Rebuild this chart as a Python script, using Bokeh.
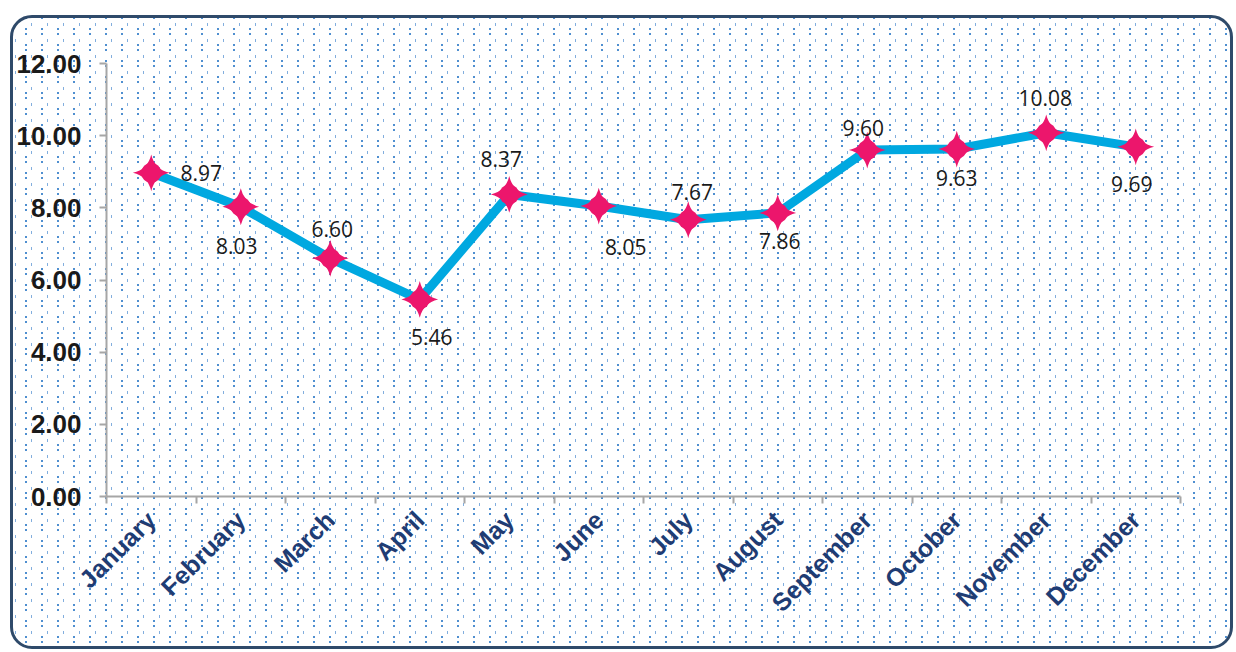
import math
from bokeh.plotting import figure
from bokeh.models import (ColumnDataSource, LabelSet, FixedTicker, NumeralTickFormatter, Range1d)
from bokeh.core.properties import value
from bokeh.embed import file_html
from bokeh.resources import INLINE

# ---- data ----
months = ["January", "February", "March", "April", "May", "June", "July",
          "August", "September", "October", "November", "December"]
values = [8.97, 8.03, 6.60, 5.46, 8.37, 8.05, 7.67, 7.86, 9.60, 9.63, 10.08, 9.69]
y_ticks = [0, 2, 4, 6, 8, 10, 12]

# label placement (style): screen-pixel offsets (dx right, dy up)
label_dx = [50, -4, 2, 12, -8, 27, 4, 2, -4, 0, -1, -4]
label_dy = [0, -39, 29, -38, 35, -41, 28, -28, 22, -29, 35, -37]

xs = [i + 0.5 for i in range(len(months))]
src = ColumnDataSource(dict(
    x=xs, y=values,
    txt=["%.2f" % v for v in values],
    dx=label_dx, dy=label_dy,
))

tile = ("data:image/svg+xml;utf8,"
        "<svg xmlns='http://www.w3.org/2000/svg' width='16' height='16'>"
        "<rect x='0' y='0' width='2' height='2' fill='%234f8fd0'/>"
        "<rect x='0' y='5' width='2' height='2' fill='%234f8fd0'/>"
        "<rect x='6' y='11' width='1' height='3' fill='%2382aede'/>"
        "</svg>")

p = figure(width=1223, height=634, output_backend="svg", toolbar_location=None,
           x_range=Range1d(0, 12), y_range=Range1d(0, 12),
           min_border_left=92, min_border_right=56, min_border_top=45, min_border_bottom=156)

p.styles = {
    "margin-left": "10px",
    "margin-top": "15px",
    "border": "3px solid #2f4a6a",
    "border-radius": "22px",
    "background-color": "white",
    "background-image": 'url("%s")' % tile,
    "background-position": "12px 10px",
}
p.background_fill_color = None
p.border_fill_color = None
p.outline_line_color = None
p.grid.visible = False

# axes
p.xaxis.ticker = FixedTicker(ticks=xs, minor_ticks=list(range(0, 13)))
p.xaxis.major_label_overrides = {x: m for x, m in zip(xs, months)}
p.xaxis.major_label_orientation = math.pi / 4
p.xaxis.major_tick_line_color = None
p.xaxis.minor_tick_line_color = "#a6a6a6"
p.xaxis.minor_tick_line_width = 2
p.xaxis.minor_tick_out = 7
p.xaxis.minor_tick_in = 0
p.xaxis.axis_line_color = "#a6a6a6"
p.xaxis.axis_line_width = 2
p.xaxis.major_label_text_font = "Liberation Sans"
p.xaxis.major_label_text_font_style = "bold"
p.xaxis.major_label_text_font_size = "25px"
p.xaxis.major_label_text_color = "#1f3c73"
p.xaxis.major_label_standoff = 12

p.yaxis.ticker = FixedTicker(ticks=y_ticks)
p.yaxis.formatter = NumeralTickFormatter(format="0.00")
p.yaxis.minor_tick_line_color = None
p.yaxis.major_tick_line_color = "#a6a6a6"
p.yaxis.major_tick_line_width = 2
p.yaxis.major_tick_out = 7
p.yaxis.major_tick_in = 0
p.yaxis.axis_line_color = "#a6a6a6"
p.yaxis.axis_line_width = 2
p.yaxis.major_label_text_font = "Liberation Sans"
p.yaxis.major_label_text_font_style = "bold"
p.yaxis.major_label_text_font_size = "26px"
p.yaxis.major_label_text_color = "#1a1a1a"
p.yaxis.major_label_standoff = 18

# series
p.line("x", "y", source=src, line_color="#00a8e0", line_width=9, line_join="round")
p.scatter("x", "y", source=src, marker="square_pin", angle=math.pi / 4, size=26,
          fill_color="#ec166c", line_color=None)
p.scatter("x", "y", source=src, marker="circle", size=20,
          fill_color="#ec166c", line_color=None)

labels = LabelSet(x="x", y="y", text="txt", source=src, x_offset="dx", y_offset="dy",
                  text_align="center", text_baseline="middle",
                  text_font=value("Open Sans"), text_font_size="21px", text_color="#1a1a1a")
p.add_layout(labels)

open("out.html", "w").write(file_html(p, INLINE))
